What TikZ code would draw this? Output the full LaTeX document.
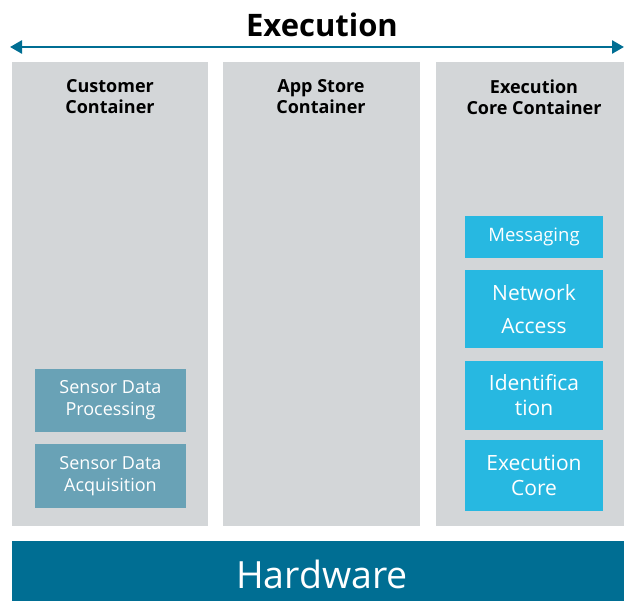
\documentclass[tikz,border=0pt]{standalone}
\usepackage{fontspec}
\setmainfont{Open Sans}
\usetikzlibrary{arrows.meta}
\definecolor{panelgray}{HTML}{D3D6D8}
\definecolor{deepteal}{HTML}{006E93}
\definecolor{steel}{HTML}{69A2B6}
\definecolor{skyblue}{HTML}{27B8E1}
\tikzset{
  panel/.style={fill=panelgray, draw=none},
  paneltitle/.style={font=\bfseries\fontsize{18}{21}\selectfont, align=center, text=black},
  steelbox/.style={fill=steel, draw=none, text=white, align=center,
    font=\fontsize{18}{22}\selectfont},
  skybox/.style={fill=skyblue, draw=none, text=white, align=center,
    font=\fontsize{21}{25}\selectfont},
}
\begin{document}
\begin{tikzpicture}[x=1pt,y=-1pt]
\useasboundingbox (0,0) rectangle (624,601);

% heading and span arrow
\node[font=\bfseries\fontsize{31}{34}\selectfont] (title) at (322,25) {Execution};
\coordinate (arrL) at (10,47);
\coordinate (arrR) at (624,47);
\draw[deepteal, line width=2.6pt, {Triangle[length=12pt,width=13pt]}-{Triangle[length=12pt,width=13pt]}] (arrL) -- (arrR);

% containers
\fill[panel] (12,62) rectangle (208,526);
\fill[panel] (223,62) rectangle (420,526);
\fill[panel] (436,62) rectangle (624,526);
\node[paneltitle] (c1) at (110,97) {Customer\\Container};
\node[paneltitle] (c2) at (321,97) {App Store\\Container};
\node[paneltitle] (c3) at (534,97) {Execution\\Core Container};

% customer container blocks
\node[steelbox, minimum width=151pt, minimum height=63pt] (sdp) at (110.5,400.5) {Sensor Data\\Processing};
\node[steelbox, minimum width=151pt, minimum height=64pt] (sda) at (110.5,476) {Sensor Data\\Acquisition};

% execution core blocks
\node[skybox, minimum width=138pt, minimum height=42pt, font=\fontsize{18.5}{22}\selectfont] (msg) at (534,237) {Messaging};
\node[skybox, minimum width=138pt, minimum height=78pt, font=\fontsize{21}{33}\selectfont] (net) at (534,309) {Network\\Access};
\node[skybox, minimum width=138pt, minimum height=69pt] (idf) at (534,395.5) {Identifica\\tion};
\node[skybox, minimum width=138pt, minimum height=71pt] (exc) at (534,475.5) {Execution\\Core};

% hardware layer
\fill[deepteal] (12,541) rectangle (624,601);
\node[text=white, font=\fontsize{37.5}{40}\selectfont] (hw) at (322,574) {Hardware};
\end{tikzpicture}
\end{document}
